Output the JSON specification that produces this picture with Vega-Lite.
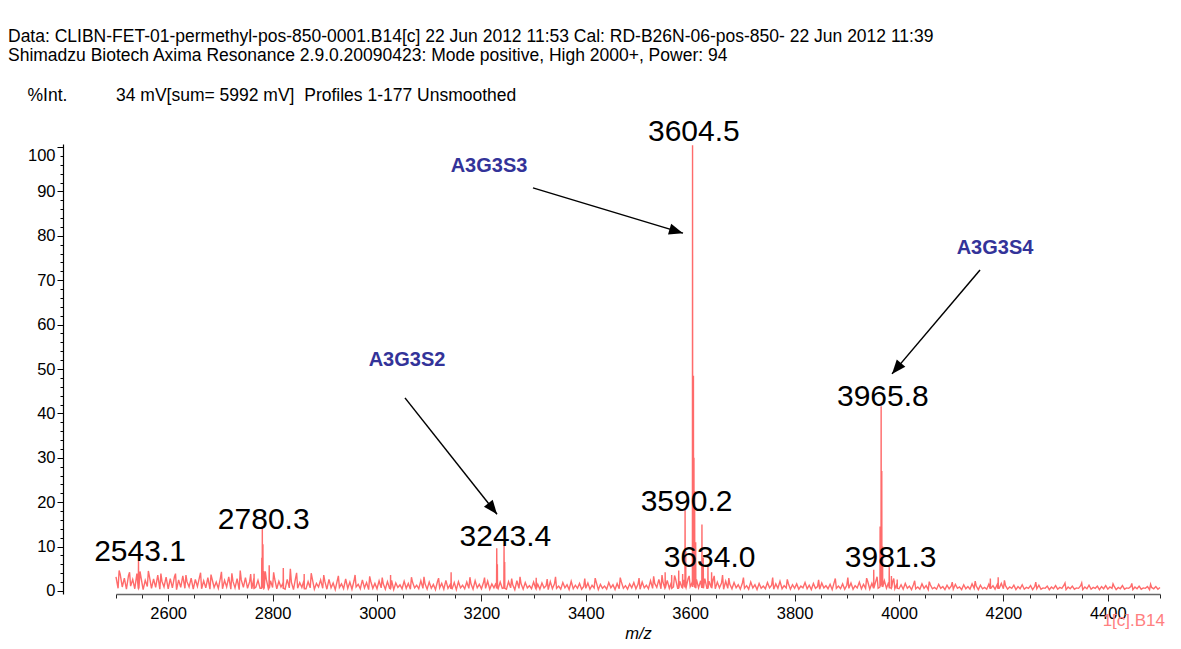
{
  "$schema": "https://vega.github.io/schema/vega-lite/v6.json",
  "width": 1044,
  "height": 450,
  "autosize": {"type": "none"},
  "padding": {"left": 116, "top": 144, "right": 21, "bottom": 55},
  "background": "white",
  "config": {"view": {"stroke": null}, "font": "Liberation Sans", "axis": {"grid": false}},
  "title": {
    "text": ["Data: CLIBN-FET-01-permethyl-pos-850-0001.B14[c] 22 Jun 2012 11:53 Cal: RD-B26N-06-pos-850- 22 Jun 2012 11:39", "Shimadzu Biotech Axima Resonance 2.9.0.20090423: Mode positive, High 2000+, Power: 94"],
    "anchor": "start",
    "frame": "group",
    "dx": -108,
    "offset": 22,
    "font": "Liberation Sans",
    "fontSize": 17.5,
    "fontWeight": "normal",
    "color": "#000000",
    "lineHeight": 19
  },
  "datasets": {
    "arrows": [
      {"name": "S3", "x": 3586.2, "y": 80.6, "x2": 3298.8, "y2": 90.8},
      {"name": "S4", "x": 3986.6, "y": 48.9, "x2": 4155.2, "y2": 72.3},
      {"name": "S2", "x": 3229.9, "y": 17.3, "x2": 3053.6, "y2": 43.5}
    ],
    "peaks": [
      {"label": "2543.1", "x": 2546, "y": 6.8},
      {"label": "2780.3", "x": 2783, "y": 14.0},
      {"label": "3243.4", "x": 3246, "y": 10.2},
      {"label": "3590.2", "x": 3593, "y": 18.1},
      {"label": "3604.5", "x": 3607, "y": 101.4},
      {"label": "3634.0", "x": 3637, "y": 5.5},
      {"label": "3965.8", "x": 3969, "y": 41.7},
      {"label": "3981.3", "x": 3984, "y": 5.5}
    ],
    "notes": [
      {"label": "A3G3S3", "x": 3214.6, "y": 95.7},
      {"label": "A3G3S4", "x": 4183.9, "y": 77.3},
      {"label": "A3G3S2", "x": 3057.5, "y": 52.0}
    ],
    "tag": [
      {"label": "1[c].B14", "x": 4509.6, "y": -7.9}
    ]
  },
  "encoding": {
    "x": {
      "field": "x",
      "type": "quantitative",
      "scale": {"domain": [2500, 4500], "nice": false, "zero": false},
      "axis": {
        "title": "m/z",
        "titleFont": "Liberation Sans",
        "titleFontStyle": "italic",
        "titleFontWeight": "normal",
        "titleFontSize": 16.5,
        "titleColor": "#000000",
        "titlePadding": 4,
        "values": [2500,2550,2600,2650,2700,2750,2800,2850,2900,2950,3000,3050,3100,3150,3200,3250,3300,3350,3400,3450,3500,3550,3600,3650,3700,3750,3800,3850,3900,3950,4000,4050,4100,4150,4200,4250,4300,4350,4400,4450,4500],
        "format": "d",
        "labelExpr": "datum.value % 200 === 0 ? datum.label : ''",
        "labelFont": "Liberation Sans",
        "labelFontSize": 16.5,
        "labelColor": "#000000",
        "labelPadding": 4,
        "labelOverlap": false,
        "labelFlush": false,
        "tickSize": {"condition": {"test": "datum.value % 200 === 0", "value": 7}, "value": 4},
        "tickColor": "#222222",
        "tickWidth": 1,
        "domainColor": "#666666",
        "domainWidth": 1.5
      }
    },
    "y": {
      "field": "y",
      "type": "quantitative",
      "scale": {"domain": [-0.68, 100.68], "nice": false, "zero": false},
      "axis": {
        "title": "%Int.\u00a0\u00a0\u00a0\u00a0\u00a0\u00a0\u00a0\u00a0\u00a0\u00a034 mV[sum= 5992 mV]\u00a0 Profiles 1-177 Unsmoothed",
        "titleAngle": 0,
        "titleX": -36,
        "titleY": -43.5,
        "titleAlign": "left",
        "titleBaseline": "alphabetic",
        "titleFont": "Liberation Sans",
        "titleFontWeight": "normal",
        "titleFontSize": 17.5,
        "titleColor": "#000000",
        "offset": 53,
        "values": [0,2,4,6,8,10,12,14,16,18,20,22,24,26,28,30,32,34,36,38,40,42,44,46,48,50,52,54,56,58,60,62,64,66,68,70,72,74,76,78,80,82,84,86,88,90,92,94,96,98,100],
        "labelExpr": "datum.value % 10 === 0 ? datum.label : ''",
        "labelFont": "Liberation Sans",
        "labelFontSize": 16.5,
        "labelColor": "#000000",
        "labelPadding": 2,
        "labelOverlap": false,
        "labelFlush": false,
        "labelBaseline": {"condition": {"test": "datum.value === 100", "value": "top"}, "value": "middle"},
        "tickSize": {"condition": {"test": "datum.value % 10 === 0", "value": 6}, "value": 3},
        "tickColor": "#000000",
        "domainColor": "#000000",
        "domainWidth": 1.2
      }
    }
  },
  "layer": [
    {
      "data": {
        "values": "x,y\n2500,3.2\n2504,0.6\n2508,3.8\n2512,0.9\n2516,2.9\n2520,0.4\n2524,3.5\n2528,1.1\n2532,2.6\n2536,0.5\n2540,3.9\n2544,0.7\n2548,3.0\n2552,0.3\n2556,2.4\n2560,1.0\n2564,3.3\n2568,0.6\n2572,2.7\n2576,0.8\n2580,3.6\n2584,0.4\n2588,2.2\n2592,0.9\n2596,3.1\n2600,0.5\n2604,2.8\n2608,0.7\n2612,3.2\n2616,0.3\n2620,2.5\n2624,0.8\n2628,3.4\n2632,0.6\n2636,2.1\n2640,0.9\n2644,2.9\n2648,0.4\n2652,2.6\n2656,1.0\n2660,3.1\n2664,0.5\n2668,2.3\n2672,0.7\n2676,3.0\n2680,0.4\n2684,2.7\n2688,0.8\n2692,2.0\n2696,0.6\n2700,2.9\n2704,0.5\n2708,2.4\n2712,0.9\n2716,3.2\n2720,0.4\n2724,2.2\n2728,0.7\n2732,2.8\n2736,0.3\n2740,2.5\n2744,0.8\n2748,3.0\n2752,0.6\n2756,2.1\n2760,0.5\n2764,2.7\n2768,0.9\n2772,2.4\n2776,0.6\n2780,2.0\n2784,0.7\n2788,2.6\n2792,0.4\n2796,2.3\n2800,0.8\n2804,2.7\n2808,0.5\n2812,2.2\n2816,0.9\n2820,1.8\n2824,0.4\n2828,2.6\n2832,0.7\n2836,2.0\n2840,0.3\n2844,2.9\n2848,0.6\n2852,1.9\n2856,0.8\n2860,2.4\n2864,0.5\n2868,2.1\n2872,0.7\n2876,2.8\n2880,0.4\n2884,1.7\n2888,0.9\n2892,2.5\n2896,0.6\n2900,2.2\n2904,0.4\n2908,2.6\n2912,0.7\n2916,1.8\n2920,0.3\n2924,2.4\n2928,0.8\n2932,1.6\n2936,0.5\n2940,2.7\n2944,0.6\n2948,2.0\n2952,0.4\n2956,2.3\n2960,0.9\n2964,1.5\n2968,0.5\n2972,2.5\n2976,0.7\n2980,1.9\n2984,0.3\n2988,2.2\n2992,0.6\n2996,1.7\n3000,0.5\n3004,2.3\n3008,0.7\n3012,1.6\n3016,0.4\n3020,2.1\n3024,0.6\n3028,2.4\n3032,0.3\n3036,1.8\n3040,0.8\n3044,1.4\n3048,0.5\n3052,2.2\n3056,0.6\n3060,1.7\n3064,0.4\n3068,2.0\n3072,0.7\n3076,1.3\n3080,0.5\n3084,2.3\n3088,0.6\n3092,1.6\n3096,0.4\n3100,2.0\n3104,0.6\n3108,1.5\n3112,0.3\n3116,2.2\n3120,0.7\n3124,1.7\n3128,0.4\n3132,2.4\n3136,0.6\n3140,1.4\n3144,0.5\n3148,1.9\n3152,0.3\n3156,2.1\n3160,0.7\n3164,1.3\n3168,0.5\n3172,2.0\n3176,0.6\n3180,1.6\n3184,0.4\n3188,2.3\n3192,0.7\n3196,1.5\n3200,0.5\n3204,1.9\n3208,0.6\n3212,2.2\n3216,0.4\n3220,1.6\n3224,0.7\n3228,1.8\n3232,0.5\n3236,2.0\n3240,0.6\n3244,1.7\n3248,0.4\n3252,2.1\n3256,0.7\n3260,1.4\n3264,0.3\n3268,2.3\n3272,0.6\n3276,1.6\n3280,0.4\n3284,1.9\n3288,0.7\n3292,1.2\n3296,0.5\n3300,2.0\n3304,0.6\n3308,1.5\n3312,0.4\n3316,1.8\n3320,0.7\n3324,1.2\n3328,0.3\n3332,2.1\n3336,0.5\n3340,1.6\n3344,0.6\n3348,1.1\n3352,0.4\n3356,1.9\n3360,0.7\n3364,1.4\n3368,0.3\n3372,2.2\n3376,0.5\n3380,1.3\n3384,0.6\n3388,1.7\n3392,0.4\n3396,1.0\n3400,0.6\n3404,1.8\n3408,0.4\n3412,1.3\n3416,0.7\n3420,2.0\n3424,0.3\n3428,1.5\n3432,0.6\n3436,1.1\n3440,0.4\n3444,1.9\n3448,0.7\n3452,1.4\n3456,0.3\n3460,1.7\n3464,0.5\n3468,2.1\n3472,0.6\n3476,1.2\n3480,0.4\n3484,1.6\n3488,0.7\n3492,1.9\n3496,0.5\n3500,1.5\n3504,0.4\n3508,2.0\n3512,0.7\n3516,1.3\n3520,0.5\n3524,2.3\n3528,0.6\n3532,1.7\n3536,0.8\n3540,2.6\n3544,0.5\n3548,1.9\n3552,0.7\n3556,2.4\n3560,0.6\n3564,2.0\n3568,0.9\n3572,2.7\n3576,0.6\n3580,2.2\n3584,0.8\n3588,2.5\n3592,0.7\n3596,2.8\n3600,1.0\n3604,2.0\n3608,0.9\n3612,2.6\n3616,0.7\n3620,2.3\n3624,0.8\n3628,2.8\n3632,0.6\n3636,2.2\n3640,0.9\n3644,2.6\n3648,0.5\n3652,2.0\n3656,0.7\n3660,1.8\n3664,0.4\n3668,2.2\n3672,0.6\n3676,1.5\n3680,0.5\n3684,1.9\n3688,0.7\n3692,1.4\n3696,0.4\n3700,1.8\n3704,0.6\n3708,1.2\n3712,0.4\n3716,2.0\n3720,0.7\n3724,1.4\n3728,0.3\n3732,1.7\n3736,0.6\n3740,1.1\n3744,0.5\n3748,1.9\n3752,0.7\n3756,1.3\n3760,0.4\n3764,1.6\n3768,0.6\n3772,2.2\n3776,0.5\n3780,1.2\n3784,0.7\n3788,1.7\n3792,0.4\n3796,1.4\n3800,0.6\n3804,1.6\n3808,0.4\n3812,1.1\n3816,0.7\n3820,1.9\n3824,0.5\n3828,1.3\n3832,0.3\n3836,1.7\n3840,0.6\n3844,1.0\n3848,0.4\n3852,1.8\n3856,0.7\n3860,1.2\n3864,0.5\n3868,1.5\n3872,0.3\n3876,2.0\n3880,0.6\n3884,1.1\n3888,0.5\n3892,1.6\n3896,0.4\n3900,1.3\n3904,0.6\n3908,1.8\n3912,0.4\n3916,1.2\n3920,0.7\n3924,2.0\n3928,0.5\n3932,1.5\n3936,0.6\n3940,2.2\n3944,0.4\n3948,1.7\n3952,0.7\n3956,2.4\n3960,0.6\n3964,1.8\n3968,0.9\n3972,2.3\n3976,0.6\n3980,1.9\n3984,0.7\n3988,2.1\n3992,0.5\n3996,1.6\n4000,0.5\n4004,1.4\n4008,0.4\n4012,1.7\n4016,0.6\n4020,1.1\n4024,0.3\n4028,1.5\n4032,0.5\n4036,0.9\n4040,0.4\n4044,1.6\n4048,0.6\n4052,1.2\n4056,0.3\n4060,1.4\n4064,0.5\n4068,0.8\n4072,0.4\n4076,1.5\n4080,0.6\n4084,1.0\n4088,0.3\n4092,1.3\n4096,0.5\n4100,1.1\n4104,0.4\n4108,1.5\n4112,0.6\n4116,0.9\n4120,0.3\n4124,1.4\n4128,0.5\n4132,1.0\n4136,0.4\n4140,1.6\n4144,0.6\n4148,1.1\n4152,0.3\n4156,1.3\n4160,0.5\n4164,0.8\n4168,0.4\n4172,1.5\n4176,0.6\n4180,1.2\n4184,0.4\n4188,1.4\n4192,0.6\n4196,1.7\n4200,0.5\n4204,1.2\n4208,0.4\n4212,0.9\n4216,0.6\n4220,1.3\n4224,0.3\n4228,1.0\n4232,0.5\n4236,1.4\n4240,0.4\n4244,0.8\n4248,0.6\n4252,1.2\n4256,0.3\n4260,1.0\n4264,0.5\n4268,1.3\n4272,0.4\n4276,0.7\n4280,0.6\n4284,1.1\n4288,0.3\n4292,0.9\n4296,0.5\n4300,1.2\n4304,0.4\n4308,0.8\n4312,0.6\n4316,1.3\n4320,0.3\n4324,0.9\n4328,0.5\n4332,1.1\n4336,0.4\n4340,0.7\n4344,0.6\n4348,1.2\n4352,0.3\n4356,0.9\n4360,0.5\n4364,1.3\n4368,0.4\n4372,0.8\n4376,0.6\n4380,1.1\n4384,0.3\n4388,1.0\n4392,0.5\n4396,1.2\n4400,0.4\n4404,0.9\n4408,0.6\n4412,1.1\n4416,0.3\n4420,0.8\n4424,0.5\n4428,1.2\n4432,0.4\n4436,0.7\n4440,0.6\n4444,1.0\n4448,0.3\n4452,0.9\n4456,0.5\n4460,1.1\n4464,0.4\n4468,0.7\n4472,0.6\n4476,1.0\n4480,0.3\n4484,0.8\n4488,0.5\n4492,1.0\n4496,0.4\n4500,0.8\n2506,4.6\n2526,4.2\n2546,4.4\n2562,4.5\n2586,3.9\n2614,3.9\n2634,3.6\n2662,4.1\n2682,3.7\n2702,4.3\n2722,4.0\n2738,4.6\n2758,3.8\n2786,4.4\n2802,4.2\n2834,5.0\n2846,4.1\n2874,4.0\n2898,3.6\n2926,3.4\n2958,3.6\n2986,3.3\n3010,3.0\n3066,3.1\n3090,3.2\n3118,2.9\n3178,3.1\n3206,3.0\n3258,2.8\n3274,3.2\n3326,2.7\n3342,3.2\n3398,2.8\n3418,2.9\n3466,3.0\n3502,2.9\n3530,3.3\n3546,3.6\n3570,3.5\n3598,3.4\n3646,3.4\n3662,3.6\n3674,2.9\n3702,3.0\n3758,3.0\n3786,2.6\n3846,2.5\n3878,2.8\n3902,3.0\n3938,2.9\n3958,3.2\n3990,2.8\n4030,2.3\n4058,2.1\n4102,2.0\n4146,2.2\n4202,2.4\n4262,2.0\n4318,1.8\n4350,1.8\n4410,1.6\n4446,1.7\n4482,1.5\n2542.7,0.5\n2543.1,6.8\n2543.5,0.6\n2764.1,0.5\n2764.5,3.9\n2764.9,0.6\n2778.9,0.6\n2779.3,7.5\n2779.7,0.8\n2780.1,0.9\n2780.3,14.6\n2780.6,1.0\n2781.3,1.0\n2781.5,10.5\n2781.8,0.8\n2782.8,0.7\n2783.0,4.5\n2783.3,0.6\n2793.1,0.6\n2793.5,5.8\n2793.9,0.7\n2820.1,0.5\n2820.5,5.2\n2820.9,0.6\n2860.2,0.6\n2860.5,3.8\n2860.8,0.5\n3025.6,0.5\n3026,3.6\n3026.4,0.6\n3141.6,0.5\n3142,4.2\n3142.4,0.6\n3229.0,0.6\n3229.4,9.6\n3229.8,0.8\n3230.4,0.8\n3230.6,6.0\n3230.9,0.7\n3243.0,0.7\n3243.4,10.3\n3243.8,0.9\n3244.4,0.9\n3244.6,6.5\n3244.9,0.6\n3304.6,0.5\n3305,3.0\n3305.4,0.6\n3551.6,0.6\n3552,4.2\n3552.4,0.7\n3564.2,0.5\n3564.5,3.6\n3564.8,0.6\n3577.6,0.6\n3578,4.6\n3578.4,0.7\n3585.2,0.7\n3585.5,3.8\n3585.8,0.8\n3589.9,0.8\n3590.2,18.3\n3590.5,1.0\n3591.2,1.0\n3591.4,9.0\n3591.7,0.8\n3604.2,0.9\n3604.5,100.4\n3604.8,2.0\n3605.9,2.0\n3606.2,48.5\n3606.5,1.5\n3607.0,1.5\n3607.2,30\n3607.5,1.2\n3608.2,1.0\n3608.5,22.5\n3608.8,0.9\n3610.2,0.8\n3610.5,11\n3610.8,0.7\n3622.2,0.7\n3622.5,15\n3622.8,0.9\n3624.7,0.8\n3625,7.5\n3625.3,0.6\n3633.7,0.6\n3634,5.6\n3634.3,0.7\n3640.7,0.9\n3641,4.2\n3641.3,0.6\n3951.3,0.6\n3951.6,4.8\n3951.9,0.7\n3963.5,0.9\n3963.8,14.5\n3964.1,1.2\n3965.5,1.5\n3965.8,41.6\n3966.1,2.0\n3966.8,2.0\n3967.0,27\n3967.3,1.5\n3968.3,1.2\n3968.5,10\n3968.8,0.9\n3981.0,0.8\n3981.3,5.5\n3981.6,0.7\n3985.2,0.6\n3985.5,3.4\n3985.8,0.7\n3996.3,0.5\n3996.6,2.6\n3996.9,0.6\n4174.7,0.5\n4175,2.8\n4175.3,0.6\n4189.7,0.5\n4190,3.1\n4190.3,0.6",
        "format": {"type": "csv", "parse": {"x": "number", "y": "number"}}
      },
      "mark": {"type": "line", "color": "#ff6b6b", "strokeWidth": 1.4}
    },
    {
      "data": {"name": "arrows"},
      "mark": {"type": "rule", "color": "#000000", "strokeWidth": 1.5},
      "encoding": {"x2": {"field": "x2"}, "y2": {"field": "y2"}}
    },
    {
      "data": {"name": "arrows"},
      "transform": [{"filter": "datum.name === 'S3'"}],
      "mark": {"type": "point", "shape": "M0,0L-0.4,1L0.4,1Z", "size": 784, "filled": true, "color": "#000000", "opacity": 1, "strokeWidth": 0, "angle": 106.7}
    },
    {
      "data": {"name": "arrows"},
      "transform": [{"filter": "datum.name === 'S4'"}],
      "mark": {"type": "point", "shape": "M0,0L-0.4,1L0.4,1Z", "size": 784, "filled": true, "color": "#000000", "opacity": 1, "strokeWidth": 0, "angle": 220.2}
    },
    {
      "data": {"name": "arrows"},
      "transform": [{"filter": "datum.name === 'S2'"}],
      "mark": {"type": "point", "shape": "M0,0L-0.4,1L0.4,1Z", "size": 784, "filled": true, "color": "#000000", "opacity": 1, "strokeWidth": 0, "angle": 141.6}
    },
    {
      "data": {"name": "peaks"},
      "mark": {"type": "text", "font": "Liberation Sans", "fontSize": 30, "color": "#000000", "align": "center", "baseline": "alphabetic"},
      "encoding": {"text": {"field": "label", "type": "nominal"}}
    },
    {
      "data": {"name": "notes"},
      "mark": {"type": "text", "font": "Liberation Sans", "fontSize": 20, "fontWeight": "bold", "color": "#333399", "align": "center", "baseline": "middle"},
      "encoding": {"text": {"field": "label", "type": "nominal"}}
    },
    {
      "data": {"name": "tag"},
      "mark": {"type": "text", "font": "Liberation Sans", "fontSize": 17, "color": "#ff8080", "align": "right", "baseline": "alphabetic"},
      "encoding": {"text": {"field": "label", "type": "nominal"}}
    }
  ]
}
